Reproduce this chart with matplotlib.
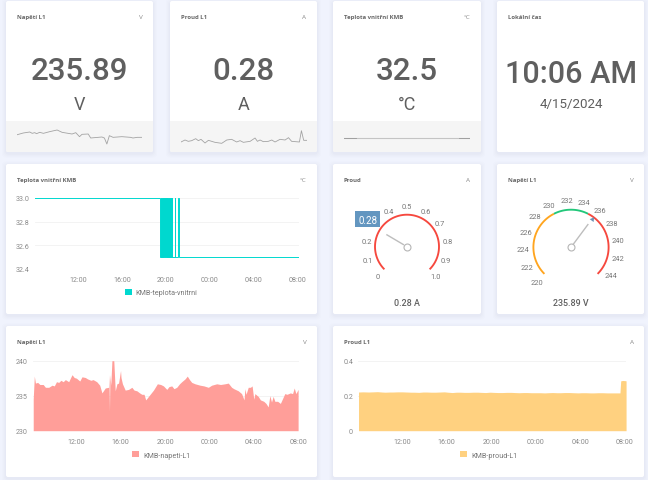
import numpy as np
import matplotlib
matplotlib.use('Agg')
import matplotlib.pyplot as plt
from matplotlib.patches import FancyBboxPatch, Rectangle

W, H = 648, 481

hour_ticks = [12, 16, 20, 24, 28, 32]
hour_labels = ['12:00', '16:00', '20:00', '00:00', '04:00', '08:00']

# inside temperature, hours since midnight of the first day
temp_hours = [8.1, 19.5, 19.5, 19.54, 19.54, 19.58, 19.58, 19.62, 19.62, 19.66, 19.66, 19.7, 19.7, 19.74, 19.74,
              19.78, 19.78, 19.82, 19.82, 19.86, 19.86, 19.9, 19.9, 19.94, 19.94, 19.98, 19.98, 20.02, 20.02, 20.06,
              20.06, 20.1, 20.1, 20.14, 20.14, 20.18, 20.18, 20.22, 20.22, 20.26, 20.26, 20.3, 20.3, 20.34, 20.34,
              20.38, 20.38, 20.42, 20.42, 20.46, 20.46, 20.5, 20.5, 20.53, 20.53, 20.56, 20.56, 20.58, 20.58, 20.82,
              20.82, 20.84, 20.84, 21.14, 21.14, 21.18, 21.18, 32.1]
temp_vals = [33.0, 33.0, 32.5, 32.5, 33.0, 33.0, 32.5, 32.5, 33.0, 33.0, 32.5, 32.5, 33.0, 33.0, 32.5,
             32.5, 33.0, 33.0, 32.5, 32.5, 33.0, 33.0, 32.5, 32.5, 33.0, 33.0, 32.5, 32.5, 33.0, 33.0,
             32.5, 32.5, 33.0, 33.0, 32.5, 32.5, 33.0, 33.0, 32.5, 32.5, 33.0, 33.0, 32.5, 32.5, 33.0,
             33.0, 32.5, 32.5, 33.0, 33.0, 32.5, 32.5, 33.0, 33.0, 32.5, 32.5, 33.0, 33.0, 32.5, 32.5,
             33.0, 33.0, 32.5, 32.5, 33.0, 33.0, 32.5, 32.5]

volt_hours = [8.1, 8.2, 8.3, 8.5, 8.7, 9.0, 9.2, 9.5, 9.8, 10.0, 10.2, 10.4, 10.6, 10.8, 11.0, 11.3, 11.6, 11.8,
              12.0, 12.3, 12.5, 12.8, 13.0, 13.3, 13.5, 13.83, 14.1, 14.3, 14.6, 14.9, 14.93, 14.98, 15.02, 15.1,
              15.2, 15.37, 15.5, 15.65, 15.8, 15.98, 16.02, 16.15, 16.4, 16.7, 17.0, 17.2, 17.45, 17.7, 17.9, 18.1,
              18.25, 18.45, 18.65, 18.95, 19.3, 19.6, 19.85, 20.15, 20.35, 20.6, 20.8, 21.05, 21.3, 21.5, 21.8,
              22.0, 22.2, 22.4, 22.7, 23.15, 23.5, 23.9, 24.2, 24.66, 25.0, 25.4, 25.7, 26.0, 26.2, 26.6, 26.9,
              27.12, 27.2, 27.3, 27.5, 27.7, 27.85, 28.0, 28.1, 28.4, 28.6, 28.9, 29.1, 29.3, 29.45, 29.6, 29.75,
              29.9, 30.15, 30.4, 30.6, 30.8, 31.0, 31.3, 31.5, 31.65, 31.8, 32.0]
volt_vals = [234.5, 237.8, 236.8, 236.9, 236.6, 236.6, 236.2, 236.2, 236.5, 236.4, 237.0, 236.9, 237.2, 237.0, 237.3,
             237.0, 238.0, 237.6, 237.5, 237.1, 237.7, 237.6, 237.4, 237.2, 237.3, 237.0, 236.5, 235.4, 236.1, 236.2,
             238.0, 232.8, 238.0, 236.5, 240.0, 240.0, 235.7, 236.7, 236.8, 238.6, 237.6, 236.7, 235.8, 235.9, 236.2,
             235.8, 235.7, 235.4, 235.2, 235.2, 234.4, 234.8, 235.2, 235.8, 236.7, 236.6, 236.4, 235.9, 236.3, 236.4,
             236.0, 236.2, 236.7, 237.0, 237.4, 237.8, 237.3, 236.9, 236.7, 236.5, 236.4, 236.2, 236.5, 236.7, 236.6,
             236.7, 236.8, 236.2, 236.0, 235.7, 235.3, 234.4, 236.0, 235.2, 236.2, 236.2, 236.4, 234.5, 235.3, 234.9,
             234.4, 234.2, 233.9, 233.4, 235.0, 234.1, 234.9, 234.2, 234.2, 233.9, 234.6, 235.3, 235.2, 235.4, 235.3,
             236.1, 235.3, 235.9]

curr_hours = [8.1, 8.5, 9.0, 9.4, 9.8, 10.2, 10.5, 10.9, 11.2, 11.6, 12.0, 12.4, 12.8, 13.1, 13.5, 13.9, 14.2, 14.6,
              15.0, 15.4, 15.8, 16.1, 16.5, 16.9, 17.2, 17.6, 18.0, 18.4, 18.8, 19.1, 19.5, 19.9, 20.2, 20.6, 21.0,
              21.4, 21.8, 22.1, 22.5, 22.9, 23.2, 23.6, 24.0, 24.4, 24.8, 25.1, 25.5, 25.9, 26.2, 26.6, 27.0, 27.4,
              27.8, 28.1, 28.5, 28.9, 29.2, 29.6, 30.0, 30.4, 30.8, 31.2, 31.55, 31.62, 31.8, 32.0, 32.1]
curr_vals = [0.221, 0.222, 0.221, 0.222, 0.223, 0.221, 0.220, 0.221, 0.221, 0.222, 0.222, 0.221, 0.220, 0.220, 0.219,
             0.221, 0.221, 0.220, 0.220, 0.221, 0.222, 0.220, 0.218, 0.220, 0.220, 0.219, 0.219, 0.220, 0.220, 0.219,
             0.218, 0.220, 0.219, 0.218, 0.218, 0.219, 0.219, 0.218, 0.217, 0.218, 0.218, 0.217, 0.217, 0.217, 0.216,
             0.217, 0.218, 0.217, 0.217, 0.218, 0.218, 0.217, 0.216, 0.217, 0.217, 0.216, 0.216, 0.217, 0.217, 0.216,
             0.216, 0.216, 0.216, 0.285, 0.287, 0.286, 0.285]

spark_volt_x = [0, 4.8, 10, 12, 14, 15.5, 18, 21, 26, 32, 36, 44, 47, 50, 52, 57, 59, 68, 70, 72, 74, 77, 84, 91, 93,
                96.5, 100]
spark_volt_y = [235.9, 236.15, 236.3, 236.1, 236.2, 236.05, 236.25, 236.1, 236.35, 236.6, 236.25, 236.0, 236.2, 235.6,
                235.95, 236.0, 235.4, 235.55, 235.4, 234.5, 235.75, 235.5, 235.6, 235.5, 235.4, 235.5, 235.5]
spark_curr_x = [0, 3.2, 5.8, 8.5, 11.7, 13.8, 15.9, 19.1, 21.8, 27, 32.4, 36.4, 40.3, 44.3, 47, 49.6, 55, 58.9, 60.8,
                62.9, 65.5, 69.5, 72.2, 74.8, 78.8, 82.8, 85.5, 88, 94.2, 95.8, 97.6, 100]
spark_curr_y = [0.21, 0.225, 0.215, 0.22, 0.235, 0.22, 0.23, 0.2025, 0.2225, 0.2075, 0.2, 0.225, 0.23, 0.21, 0.22,
                0.2075, 0.215, 0.24, 0.215, 0.225, 0.2125, 0.215, 0.225, 0.21, 0.23, 0.225, 0.2425, 0.215, 0.21,
                0.295, 0.2225, 0.2225]
spark_temp_x = [0, 9, 91, 100]
spark_temp_y = [32.5, 32.5, 32.5, 32.5]

gauge1_ticks = [0, 0.1, 0.2, 0.4, 0.5, 0.6, 0.7, 0.8, 0.9, 1.0]
gauge1_labels = ['0', '0.1', '0.2', '0.4', '0.5', '0.6', '0.7', '0.8', '0.9', '1.0']
gauge1_value = 0.28
gauge2_ticks = [220, 222, 224, 226, 228, 230, 232, 234, 236, 238, 240, 242, 244]
gauge2_value = 235.89

BG = '#f0f3fd'
TITLE = '#666666'
UNIT = '#8a8a8a'
BIG = '#5f5f5f'
TICK = '#8a8a8a'
GRID = '#f1f1f1'

plt.rcParams['font.family'] = ['Roboto', 'DejaVu Sans']

fig = plt.figure(figsize=(W / 100, H / 100), dpi=100, facecolor=BG)


def px_axes(x0, y0, x1, y1, **kw):
    return fig.add_axes([x0 / W, 1 - y1 / H, (x1 - x0) / W, (y1 - y0) / H], **kw)


bg = px_axes(0, 0, W, H)
bg.set_xlim(0, W)
bg.set_ylim(H, 0)
bg.axis('off')


def card(x0, y0, x1, y1, title, unit=None, footer=False):
    for grow, alpha in [(4, 0.010), (3, 0.012), (2, 0.016), (1, 0.02)]:
        bg.add_patch(FancyBboxPatch((x0 - grow, y0 - grow + 1.5), x1 - x0 + 2 * grow, y1 - y0 + 2 * grow,
                                    boxstyle='round,pad=0,rounding_size=4', fc='#5a6a9a', ec='none', alpha=alpha))
    box = FancyBboxPatch((x0, y0), x1 - x0, y1 - y0, boxstyle='round,pad=0,rounding_size=2', fc='white', ec='none')
    bg.add_patch(box)
    if footer:
        foot = Rectangle((x0, 122), x1 - x0, y1 - 122, fc='#f5f5f5', ec='none')
        bg.add_patch(foot)
        foot.set_clip_path(box)
    bg.text(x0 + 11, y0 + 15.3, title, fontsize=4.3, fontweight='bold', color=TITLE, va='center', ha='left',
            family='Open Sans')
    if unit:
        bg.text(x1 - 10.5, y0 + 15.3, unit, fontsize=4.6, color=UNIT, va='center', ha='right', family='Open Sans')


card(6, 2, 153, 153, 'Napětí L1', 'V', footer=True)
card(170, 2, 317, 153, 'Proud L1', 'A', footer=True)
card(333, 2, 481, 153, 'Teplota vnitřní KMB', '°C', footer=True)
card(497, 2, 644, 153, 'Lokální čas')
card(6, 165, 317, 315, 'Teplota vnitřní KMB', '°C')
card(333, 165, 481, 315, 'Proud', 'A')
card(497, 165, 644, 315, 'Napětí L1', 'V')
card(6, 327, 317, 478, 'Napětí L1', 'V')
card(333, 327, 644, 478, 'Proud L1', 'A')

for cx, big, small in [(79.3, '235.89', 'V'), (243.5, '0.28', 'A'), (407, '32.5', '°C')]:
    bg.text(cx, 68.3, big, fontsize=22.5, color=BIG, ha='center', va='center_baseline', fontweight=500)
    bg.text(cx, 103.5, small, fontsize=13, color=BIG, ha='center', va='center_baseline')
bg.text(571, 71.5, '10:06 AM', fontsize=22, color=BIG, ha='center', va='center_baseline', fontweight=500)
bg.text(571, 103.3, '4/15/2024', fontsize=9.6, color=BIG, ha='center', va='center_baseline')
bg.text(407, 302.8, '0.28 A', fontsize=6.4, color=BIG, ha='center', va='center_baseline', fontweight=500)
bg.text(571, 302.8, '235.89 V', fontsize=6.4, color=BIG, ha='center', va='center_baseline', fontweight=500)


def spark(x0, x1, ylim):
    ax = px_axes(x0, 122, x1, 153)
    ax.patch.set_alpha(0)
    ax.axis('off')
    ax.set_xlim(0, 100)
    ax.set_ylim(*ylim)
    return ax


ax = spark(17.3, 141.7, (233.3, 237.95))
ax.plot(spark_volt_x, spark_volt_y, color='#a3a3a3', lw=0.6)
ax = spark(181, 306.7, (0.1348, 0.3678))
ax.plot(spark_curr_x, spark_curr_y, color='#a3a3a3', lw=0.6)
ax = spark(344.3, 470, (32.3, 32.75))
ax.plot(spark_temp_x, spark_temp_y, color='#c4c4c4', lw=0.8)
ax.plot(spark_temp_x[:2], spark_temp_y[:2], color='#999999', lw=0.6)
ax.plot(spark_temp_x[2:], spark_temp_y[2:], color='#999999', lw=0.6)


def chart(x0, y0, x1, y1, xlim, ylim, yticks, ylabels):
    ax = px_axes(x0, y0, x1, y1)
    ax.patch.set_alpha(0)
    for s in ax.spines.values():
        s.set_visible(False)
    ax.set_xlim(*xlim)
    ax.set_ylim(*ylim)
    ax.set_xticks(hour_ticks, hour_labels)
    ax.set_yticks(yticks, ylabels)
    ax.tick_params(length=0, labelsize=5.1, labelcolor=TICK)
    ax.tick_params(axis='x', pad=5.2)
    ax.tick_params(axis='y', pad=3.8)
    ax.grid(axis='y', color=GRID, lw=0.6)
    ax.set_axisbelow(True)
    return ax


def chart_legend(ax, cx, cy):
    ax.legend(loc='center', bbox_to_anchor=(cx / W, 1 - cy / H), bbox_transform=fig.transFigure, frameon=False,
              fontsize=5.2, labelcolor='#777777', handlelength=0.95, handleheight=0.95, handletextpad=0.55,
              borderpad=0, borderaxespad=0)


ax = chart(35, 199, 299, 269.7, (8.1, 32.1), (32.4, 33.0), [32.4, 32.6, 32.8, 33.0],
           ['32.4', '32.6', '32.8', '33.0'])
ax.plot(temp_hours, temp_vals, color='#00d8cf', lw=0.7, solid_joinstyle='miter')
ax.fill_between([], [], color='#00d8cf', lw=0, label='KMB-teplota-vnitrni')
chart_legend(ax, 161.3, 293.3)

ax = chart(33, 361.7, 299, 431.7, (8.08, 32.08), (230, 240), [230, 235, 240], ['230', '235', '240'])
ax.fill_between(volt_hours, 230, volt_vals, color='#ff9e99', lw=0, label='KMB-napeti-L1')
chart_legend(ax, 161.5, 456)

ax = chart(358.3, 361.7, 626.3, 431.7, (8.08, 32.12), (0, 0.4), [0, 0.2, 0.4], ['0', '0.2', '0.4'])
ax.fill_between(curr_hours, 0, curr_vals, color='#ffd180', lw=0, label='KMB-proud-L1')
chart_legend(ax, 489, 456)


def gauge(cx, cy, vmin, vmax, radius, needle, label_r, ticks, labels, bands, value):
    ax = px_axes(cx - 62, cy - 62, cx + 62, cy + 62)
    ax.patch.set_alpha(0)
    ax.axis('off')
    ax.set_xlim(-62, 62)
    ax.set_ylim(-62, 62)

    def ang(v):
        return np.radians(225 - 270 * (np.asarray(v, dtype=float) - vmin) / (vmax - vmin))

    for lo, hi, col in bands:
        t = ang(np.linspace(lo, hi, 80))
        ax.plot(radius * np.cos(t), radius * np.sin(t), color=col, lw=1.35, solid_capstyle='butt')
    for v, lab in zip(ticks, labels):
        t = ang(v)
        ax.text(label_r * np.cos(t), label_r * np.sin(t), lab, fontsize=5.4, color='#777777', ha='center',
                va='center_baseline')
    t = ang(value)
    ax.plot([3.5 * np.cos(t), needle * np.cos(t)], [3.5 * np.sin(t), needle * np.sin(t)], color='#bdbdbd', lw=1.0,
            solid_capstyle='butt')
    ax.plot(0, 0, 'o', ms=5, mfc='white', mec='#b5b5b5', mew=0.8)
    return ax, t


ax, t = gauge(407, 247.7, 0, 1, 32, 24, 40.8, gauge1_ticks, gauge1_labels, [(0, 1, '#f6483e')], gauge1_value)
ax.add_patch(Rectangle((-51.7, 19.4), 24.7, 16.6, fc='#6396c0', ec='none'))
ax.text(-39.3, 27.7, f'{gauge1_value:.2f}', fontsize=7.0, color='white', ha='center', va='center_baseline')

ax, t = gauge(571, 248.3, 220, 245, 37.6, 29, 48, gauge2_ticks, [str(v) for v in gauge2_ticks],
              [(220, 230, '#ffa51f'), (230, 235, '#22c77a'), (235, 245, '#f6483e')], gauge2_value)
ax.plot(35 * np.cos(t), 35 * np.sin(t), marker=(3, 0, np.degrees(t) - 90), ms=4, color='#6b93b5', mew=0)

fig.savefig('out.png', dpi=100, facecolor=BG)
